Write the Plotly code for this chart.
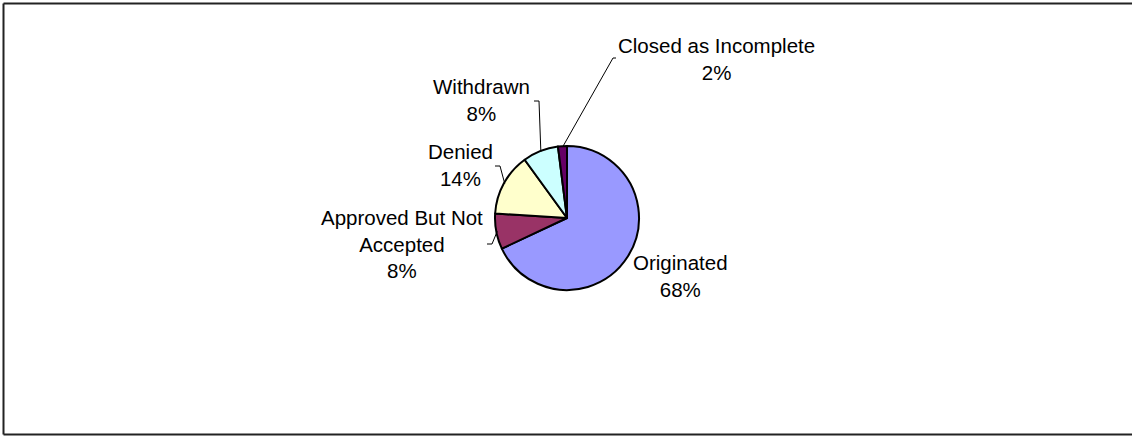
import math
import plotly.graph_objects as go

# ---- data ----
categories = ["Originated", "Approved But Not Accepted", "Denied", "Withdrawn", "Closed as Incomplete"]
label_text = ["Originated", "Approved But Not<br>Accepted", "Denied", "Withdrawn", "Closed as Incomplete"]
values = [68, 8, 14, 8, 2]
colors = ["#9999FF", "#993366", "#FFFFCC", "#CCFFFF", "#660066"]

W, H = 1132, 436
CX, CY, R = 567, 218, 72  # pie placement in pixels (layout)

def px(x):
    return x / W

def py(y):
    return 1 - y / H

fig = go.Figure()
fig.add_trace(go.Pie(
    labels=categories,
    values=values,
    sort=False,
    direction="clockwise",
    rotation=0,
    marker=dict(colors=colors, line=dict(color="black", width=2)),
    textinfo="none",
    hoverinfo="label+percent",
    showlegend=False,
    domain=dict(x=[px(CX - R), px(CX + R)], y=[py(CY + R), py(CY - R)]),
))

# label layout (pixel positions of label block centres, and leader elbows)
label_pos = {
    "Originated": (681, 276),
    "Approved But Not Accepted": (402, 244),
    "Denied": (460, 165),
    "Withdrawn": (482, 100),
    "Closed as Incomplete": (717, 59),
}
elbows = {
    "Approved But Not Accepted": [(492, 244), (487, 244)],
    "Denied": [(500, 166), (495, 166)],
    "Withdrawn": [(539, 101), (534, 101)],
    "Closed as Incomplete": [(613, 58), (616, 58)],
}

total = sum(values)
cum = 0
annotations = []
shapes = []
for cat, txt, v in zip(categories, label_text, values):
    frac = v / total
    pct = round(100 * frac)
    mid = (cum + frac / 2) * 2 * math.pi
    cum += frac
    lx, ly = label_pos[cat]
    annotations.append(dict(
        x=px(lx), y=py(ly), xref="paper", yref="paper",
        text=f"{txt}<br>{pct}%", showarrow=False,
        xanchor="center", yanchor="middle", align="center",
        font=dict(family="Arial, Liberation Sans, sans-serif", size=20.5, color="black"),
    ))
    if cat in elbows:
        ex = CX + (R - 1) * math.sin(mid)
        ey = CY - (R - 1) * math.cos(mid)
        pts = [(ex, ey)] + elbows[cat]
        path = "M " + " L ".join(f"{px(a)},{py(b)}" for a, b in pts)
        shapes.append(dict(type="path", xref="paper", yref="paper", path=path,
                           line=dict(color="black", width=1)))

# frame (left, top, bottom edges only; right edge lies outside the picture)
frame_lines = [
    ((3.5, 3.5), (W + 10, 3.5)),
    ((3.5, 3.5), (3.5, 434.5)),
    ((3.5, 434.5), (W + 10, 434.5)),
]
for (x0, y0), (x1, y1) in frame_lines:
    shapes.append(dict(type="line", xref="paper", yref="paper",
                       x0=px(x0), y0=py(y0), x1=px(x1), y1=py(y1),
                       line=dict(color="#222222", width=2)))

fig.update_layout(
    width=W, height=H,
    margin=dict(l=0, r=0, t=0, b=0),
    paper_bgcolor="white", plot_bgcolor="white",
    annotations=annotations,
    shapes=shapes,
)

fig.write_html("out.html")
